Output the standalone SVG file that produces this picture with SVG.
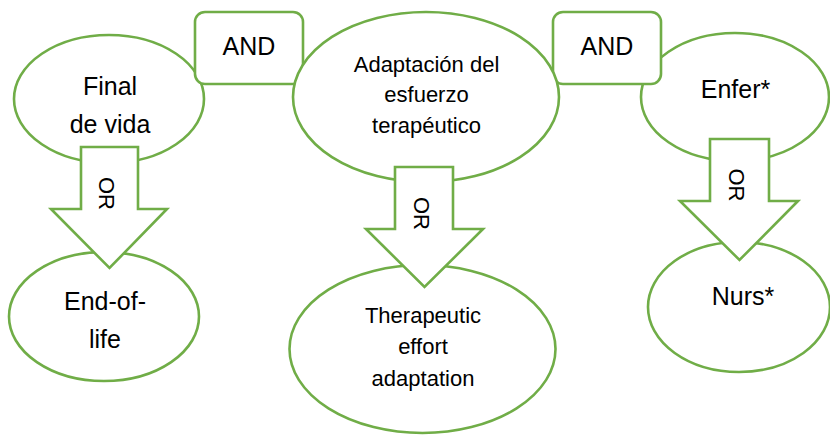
<svg xmlns="http://www.w3.org/2000/svg" width="830" height="435" viewBox="0 0 830 435">
<style>
.s{fill:#fff;stroke:#70AD47;stroke-width:2.6;stroke-linejoin:miter}
.t{font-family:"Liberation Sans",Arial,sans-serif;fill:#000;text-anchor:middle}
.big{font-size:25px}
.med{font-size:22px}
</style>
<rect width="830" height="435" fill="#fff"/>
<g id="node-final">
<ellipse class="s" cx="109" cy="99" rx="95" ry="64"/>
<text class="t big" x="110" y="95">Final</text>
<text class="t big" x="110" y="133">de vida</text>
</g>
<g id="node-enfer">
<ellipse class="s" cx="735" cy="97" rx="94" ry="64"/>
<text class="t big" x="735.5" y="98">Enfer*</text>
</g>
<g id="node-and1">
<rect class="s" x="195" y="12" width="108" height="72" rx="10"/>
<text class="t big" x="249" y="55">AND</text>
</g>
<g id="node-and2">
<rect class="s" x="553" y="12" width="108" height="72" rx="10"/>
<text class="t big" x="607" y="55">AND</text>
</g>
<g id="node-adaptacion">
<ellipse class="s" cx="426" cy="97" rx="133" ry="85"/>
<text class="t med" x="426.5" y="72">Adaptación del</text>
<text class="t med" x="426.5" y="102">esfuerzo</text>
<text class="t med" x="426.5" y="133">terapéutico</text>
</g>
<g id="node-endoflife">
<ellipse class="s" cx="104" cy="316.5" rx="95" ry="64.5"/>
<text class="t big" x="105" y="310">End-of-</text>
<text class="t big" x="105" y="348">life</text>
</g>
<g id="node-therapeutic">
<ellipse class="s" cx="422.5" cy="349" rx="133" ry="84"/>
<text class="t med" x="423" y="323">Therapeutic</text>
<text class="t med" x="423" y="354">effort</text>
<text class="t med" x="423" y="386">adaptation</text>
</g>
<g id="node-nurs">
<ellipse class="s" cx="739" cy="307" rx="91" ry="65"/>
<text class="t big" x="743" y="305">Nurs*</text>
</g>
<g id="connectors">
<polygon class="s" points="81,147 138,147 138,209 167,209 109.5,268 51,209 81,209"/>
<text class="t med" transform="translate(99,193.5) rotate(90)">OR</text>
<polygon class="s" points="395,167 453,167 453,229 483,229 424.5,287 366,229 395,229"/>
<text class="t med" transform="translate(414,213.5) rotate(90)">OR</text>
<polygon class="s" points="710,139 769,139 769,201 798,201 739.5,260 680,201 710,201"/>
<text class="t med" transform="translate(729,185) rotate(90)">OR</text>
</g>
</svg>
